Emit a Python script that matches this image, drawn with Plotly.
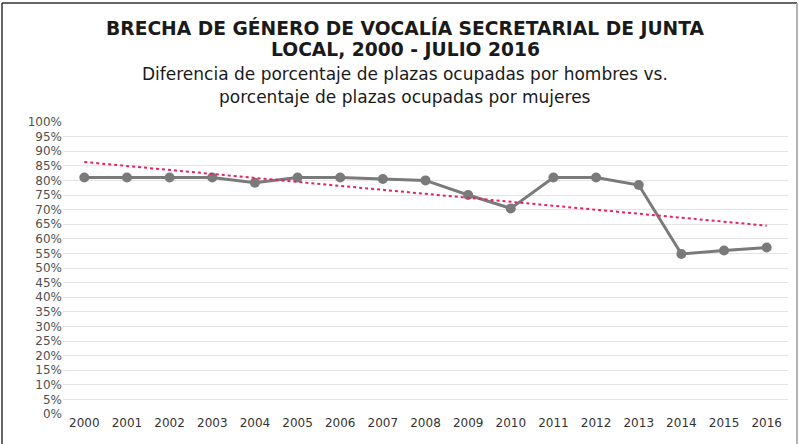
import plotly.graph_objs as go

years = list(range(2000, 2017))
brecha = [81, 81, 81, 81, 79.2, 81, 81, 80.5, 80, 75, 70.4, 81, 81, 78.4, 54.8, 56, 57]
# linea de tendencia (lineal), extremos
trend_years = [2000, 2016]
trend_vals = [86.3, 64.5]
y_ticks = list(range(0, 101, 5))

W, H = 808, 444
L, R, T, B = 63, 20, 122, 30
pw, ph = W - L - R, H - T - B
FONT = "DejaVu Sans"
CX = (405 - L) / pw  # centro horizontal del titulo

fig = go.Figure()
fig.add_trace(go.Scatter(
    x=years, y=brecha, mode="lines+markers", name="Brecha",
    line=dict(color="#7a7a7a", width=3),
    marker=dict(color="#7a7a7a", size=10),
))
fig.add_trace(go.Scatter(
    x=trend_years, y=trend_vals, mode="lines", name="Tendencia",
    line=dict(color="#e4245c", width=2, dash="dot"),
))

def line(txt, ypx, size, bold=False):
    return dict(text=f"<b>{txt}</b>" if bold else txt,
                x=CX, xref="paper", y=(H - B - ypx) / ph, yref="paper",
                showarrow=False, yanchor="middle",
                font=dict(family=FONT, size=size, color="#1a1a1a"))

# marco del grafico: izquierda y arriba oscuros, derecha gris
def edge(x0, y0, x1, y1, color):
    return dict(type="line", xref="paper", yref="paper",
                x0=(x0 - L) / pw, x1=(x1 - L) / pw,
                y0=(H - B - y0) / ph, y1=(H - B - y1) / ph,
                line=dict(color=color, width=1.5), layer="below")

fig.update_layout(
    width=W, height=H,
    margin=dict(l=L, r=R, t=T, b=B),
    paper_bgcolor="white", plot_bgcolor="white",
    showlegend=False,
    font=dict(family=FONT, color="#595959"),
    annotations=[
        line("BRECHA DE GÉNERO DE VOCALÍA SECRETARIAL DE JUNTA", 28, 18.7, True),
        line("LOCAL, 2000 - JULIO 2016", 50, 18.7, True),
        line("Diferencia de porcentaje de plazas ocupadas por hombres vs.", 74, 17),
        line("porcentaje de plazas ocupadas por mujeres", 97, 17),
    ],
    shapes=[
        edge(2, 3, 2, 444, "#333333"),
        edge(2, 3, 797, 3, "#333333"),
        edge(797, 3, 797, 444, "#9a9a9a"),
    ],
)
fig.update_xaxes(
    range=[1999.5, 2016.5], tickmode="array", tickvals=years,
    ticktext=[str(y) for y in years], showgrid=False, zeroline=False,
    showline=False, tickfont=dict(size=12, color="#333333"), ticks="",
)
fig.update_yaxes(
    range=[0, 100], tickmode="array", tickvals=y_ticks,
    ticktext=[f"{v}%" for v in y_ticks], showgrid=True,
    gridcolor="#e4e4e4", gridwidth=1, zeroline=False, showline=False,
    tickfont=dict(size=12, color="#505050"), ticks="",
)

fig.write_html("out.html", config={"displayModeBar": False},
               post_script="document.body.style.margin='0';")
